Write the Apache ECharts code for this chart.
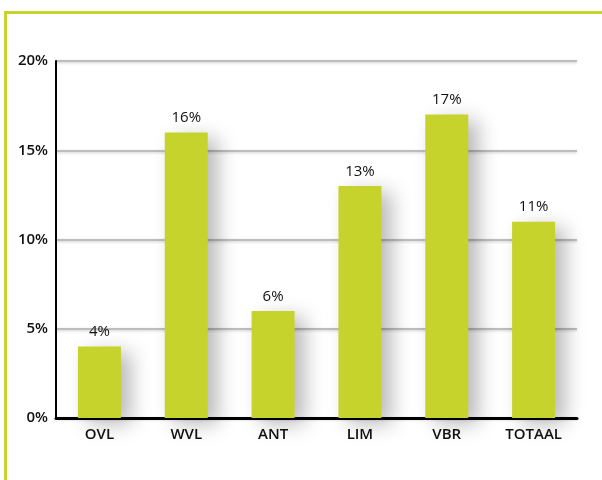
<!DOCTYPE html>
<html><head><meta charset="utf-8">
<script src="https://cdn.jsdelivr.net/npm/echarts@6/dist/echarts.min.js"></script>
<style>
html,body{margin:0;padding:0;background:#fff;}
#frame{position:absolute;left:4px;top:11px;width:598px;height:469px;border-top:3px solid #c6d32d;border-left:3px solid #c6d32d;box-sizing:border-box;}
#chart{position:absolute;left:0;top:0;width:602px;height:480px;}
</style></head>
<body>
<div id="frame"></div>
<div id="chart"></div>
<script>
const categories = ['OVL','WVL','ANT','LIM','VBR','TOTAAL'];
const values = [4,16,6,13,17,11];
const yTicks = [0,5,10,15,20];
const font = '"Open Sans", "DejaVu Sans", sans-serif';
const chart = echarts.init(document.getElementById('chart'));
chart.setOption({
  animation:false,
  grid:{left:56,right:25,top:61,bottom:62},
  xAxis:{type:'category',data:categories,
    axisLine:{lineStyle:{color:'#000',width:3}},
    axisTick:{show:false},
    axisLabel:{color:'#111',fontSize:15,fontWeight:600,fontFamily:font,margin:9}},
  yAxis:{type:'value',min:0,max:20,interval:5,
    axisLine:{show:true,lineStyle:{color:'#000',width:2}},
    axisTick:{show:false},
    axisLabel:{color:'#111',fontSize:15,fontWeight:600,fontFamily:font,margin:8,formatter:v=>v+'%'},
    splitLine:{lineStyle:{color:'#bdbdbd',width:2,shadowColor:'rgba(0,0,0,0.2)',shadowBlur:3,shadowOffsetY:1}}},
  series:[{type:'bar',data:values,barWidth:43,
    itemStyle:{color:'#c6d32d',shadowColor:'rgba(0,0,0,0.28)',shadowBlur:20,shadowOffsetX:10,shadowOffsetY:6},
    label:{show:true,position:'top',distance:7,color:'#111',fontSize:15,fontFamily:font,formatter:p=>p.value+'%'}}]
});
</script>
</body></html>
